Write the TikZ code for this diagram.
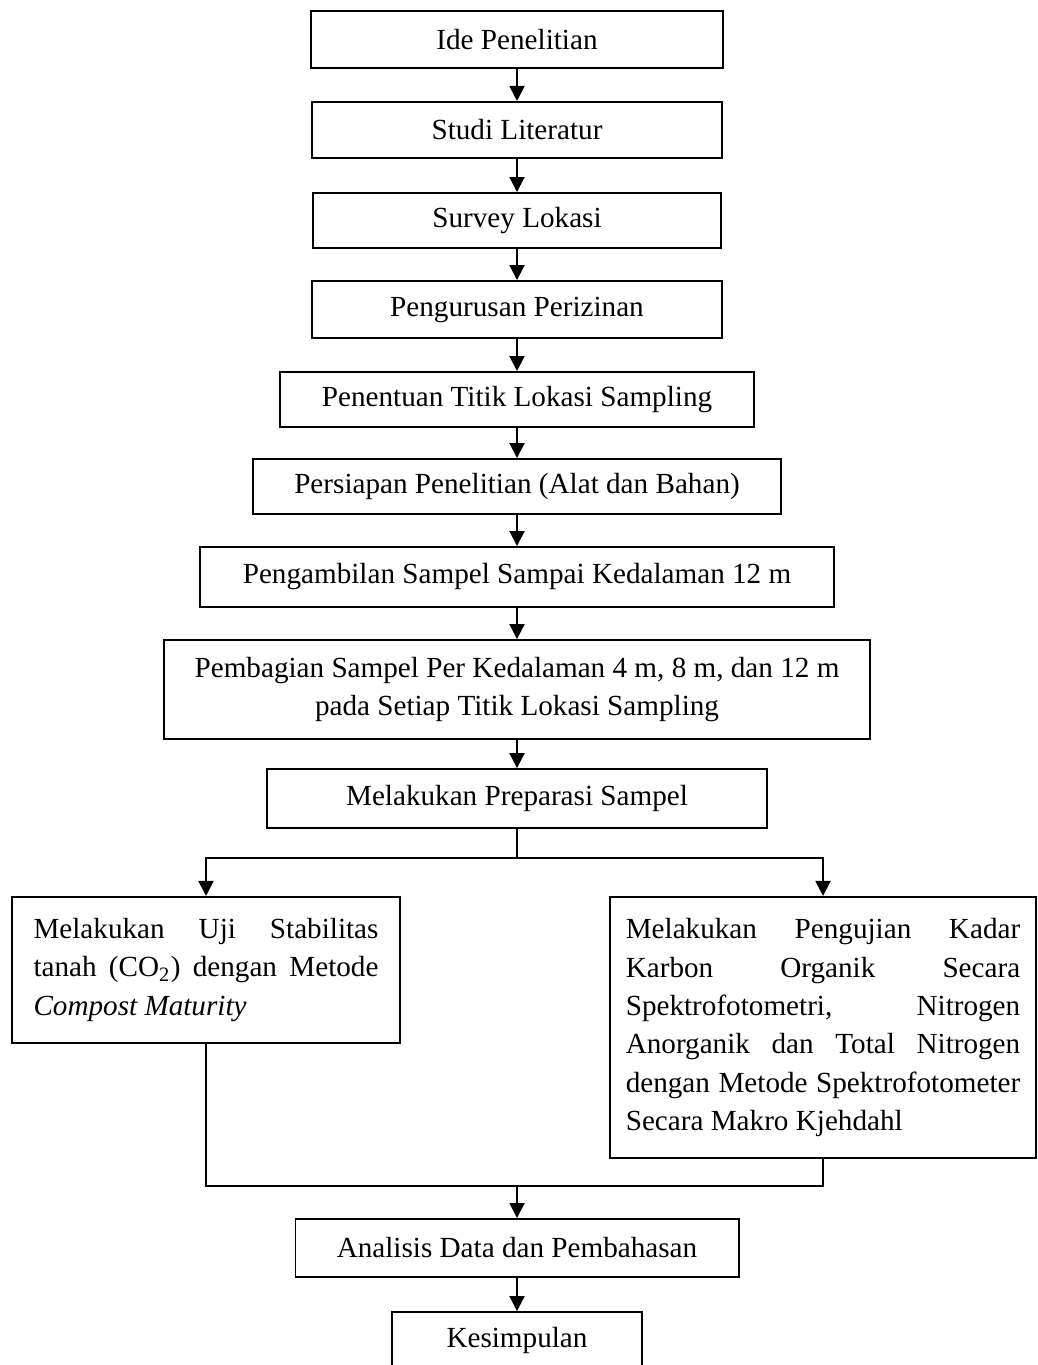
\documentclass[tikz,border=0pt]{standalone}
\usepackage{fontspec}
\setmainfont{Liberation Serif}
\usetikzlibrary{arrows.meta}
\hyphenpenalty=10000
\exhyphenpenalty=10000

\begin{document}
\begin{tikzpicture}[x=0.36pt, y=-0.36pt,
        kotak/.style={draw, line width=0.7pt, inner sep=0pt, align=center,
            font=\fontsize{10.5pt}{13.8pt}\selectfont},
        uraian/.style={draw, line width=0.7pt, inner ysep=0pt, align=justify,
            font=\fontsize{10.5pt}{13.8pt}\selectfont},
        panah/.style={line width=0.7pt, -{Triangle[length=5.4pt,width=5.4pt]}},
        garis/.style={line width=0.7pt}]
        \useasboundingbox (0,0) rectangle (1038,1365);

        \node[kotak, minimum width=148pt, minimum height=20.5pt] (ide) at (517,39.5) {Ide Penelitian};
        \node[kotak, minimum width=147.6pt, minimum height=20.2pt] (studi) at (517,130) {Studi Literatur};
        \node[kotak, minimum width=147.2pt, minimum height=19.8pt] (survey) at (517,220.5) {Survey Lokasi};
        \node[kotak, minimum width=147.6pt, minimum height=20.5pt] (izin) at (517,309.5) {Pengurusan Perizinan};
        \node[kotak, minimum width=170.6pt, minimum height=19.8pt] (titik) at (517,399.5) {Penentuan Titik Lokasi Sampling};
        \node[kotak, minimum width=190.1pt, minimum height=19.8pt] (persiapan) at (517,486.5) {Persiapan Penelitian (Alat dan Bahan)};
        \node[kotak, minimum width=228.2pt, minimum height=21.6pt] (ambil) at (517,577) {Pengambilan Sampel Sampai Kedalaman 12 m};
        \node[kotak, minimum width=254.2pt, minimum height=35.6pt] (bagi) at (517,689.5) {Pembagian Sampel Per Kedalaman 4 m, 8 m, dan 12 m\\ pada Setiap Titik Lokasi Sampling};
        \node[kotak, minimum width=180pt, minimum height=21.2pt] (prep) at (517,798.5) {Melakukan Preparasi Sampel};

        \node[uraian, text width=124.2pt, inner xsep=7.74pt, minimum height=52.6pt] (kiri) at (206,970)
            {Melakukan Uji Stabilitas\linebreak tanah (CO\textsubscript{2}) dengan Metode\linebreak \textit{Compost Maturity}};
        \node[uraian, text width=142pt, inner xsep=5.7pt, minimum height=94pt] (kanan) at (823,1027.5)
            {Melakukan Pengujian Kadar\linebreak Karbon Organik Secara\linebreak Spektrofotometri, Nitrogen\linebreak Anorganik dan Total Nitrogen\linebreak dengan Metode Spektrofotometer\linebreak Secara Makro Kjehdahl};

        \node[kotak, minimum width=159.5pt, minimum height=20.9pt] (analisis) at (517,1248) {Analisis Data dan Pembahasan};
        \node[kotak, minimum width=90pt, minimum height=20.5pt] (simpul) at (517,1340.5) {Kesimpulan};

        \coordinate (cabang) at (517,858);
        \coordinate (gabung) at (517,1186);

        \draw[panah] (ide) -- (studi);
        \draw[panah] (studi) -- (survey);
        \draw[panah] (survey) -- (izin);
        \draw[panah] (izin) -- (titik);
        \draw[panah] (titik) -- (persiapan);
        \draw[panah] (persiapan) -- (ambil);
        \draw[panah] (ambil) -- (bagi);
        \draw[panah] (bagi) -- (prep);

        \draw[garis] (prep) -- (cabang);
        \draw[panah] (cabang) -| (kiri);
        \draw[panah] (cabang) -| (kanan);
        \draw[garis] (kiri) |- (gabung);
        \draw[garis] (kanan) |- (gabung);
        \draw[panah] (gabung) -- (analisis);
        \draw[panah] (analisis) -- (simpul);
\end{tikzpicture}
\end{document}
